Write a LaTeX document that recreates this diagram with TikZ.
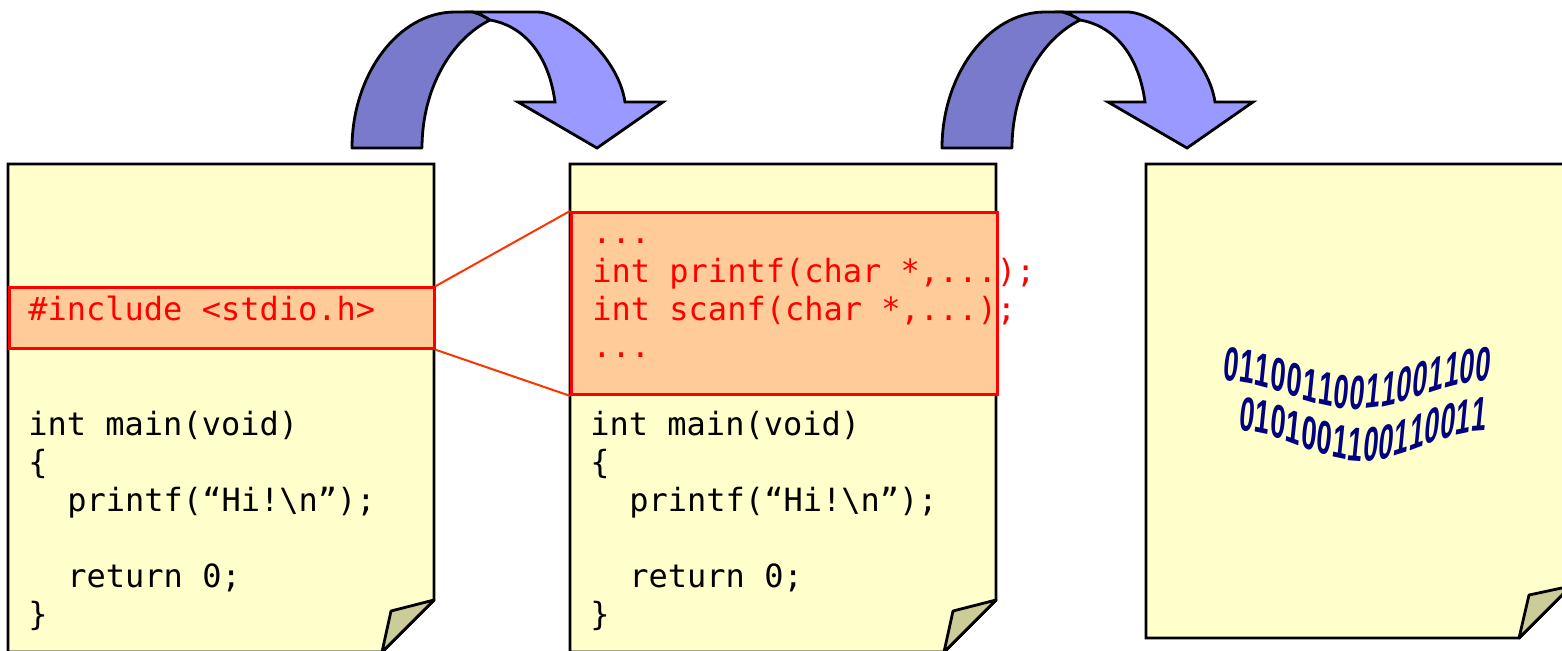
\documentclass[tikz,border=0pt]{standalone}
\usepackage{fontspec}
\newfontfamily\codefont{DejaVu Sans Mono}
\newfontfamily\bitfont{Liberation Sans}
\definecolor{pagefill}{RGB}{255,255,204}
\definecolor{foldfill}{RGB}{204,204,153}
\definecolor{peach}{RGB}{255,204,153}
\definecolor{linkred}{RGB}{255,51,0}
\definecolor{ribbondark}{RGB}{122,122,204}
\definecolor{ribbonlight}{RGB}{153,153,255}
\definecolor{bitblue}{RGB}{0,0,128}
\tikzset{
  page/.style={fill=pagefill, draw=black, line width=1.4pt, line join=miter},
  fold/.style={fill=foldfill, draw=black, line width=1.4pt, line join=round},
  hlbox/.style={rectangle, fill=peach, draw=red, line width=1.4pt, inner sep=0pt, anchor=north west},
  link/.style={draw=linkred, line width=1pt},
  code/.style={font=\codefont\fontsize{16}{19}\selectfont, inner sep=0pt, anchor=base west},
  redcode/.style={code, text=red},
  bit/.style={font=\bitfont\bfseries\fontsize{24}{24}\selectfont, text=bitblue, inner sep=0pt, anchor=base},
  backside/.style={fill=ribbondark, draw=black, line width=1.4pt, line join=round},
  frontside/.style={fill=ribbonlight, draw=black, line width=1.4pt, line join=miter},
  turn/.pic={
    % back of the twisted ribbon
    \path[backside] (352,148) .. controls (352,75) and (398,12) .. (455,12) -- (473,12)
      .. controls (480,14) and (486,17) .. (490,20)
      .. controls (450,40) and (422,90) .. (422,148) -- cycle;
    % front of the ribbon with its arrow head
    \path[frontside] (473,12) -- (537,12) .. controls (565,12) and (618,55) .. (625,102)
      -- (663,102) -- (597,148) -- (518,102) -- (555,102)
      .. controls (548,50) and (520,25) .. (490,20)
      .. controls (486,17) and (480,14) .. (473,12) -- cycle;
  }
}
\begin{document}
\begin{tikzpicture}[x=0.5pt,y=-0.5pt]
\useasboundingbox (0,0) rectangle (1562,650);
\clip (0,0) rectangle (1562,650);

% source sheet
\path[page] (8,164) -- (434,164) -- (434,600) -- (382,652) -- (8,652) -- cycle;
\path[fold] (434,600) -- (391,611) -- (382,652) -- cycle;
% preprocessed sheet
\path[page] (570,164) -- (996,164) -- (996,600) -- (944,652) -- (570,652) -- cycle;
\path[fold] (996,600) -- (953,611) -- (944,652) -- cycle;
% object sheet
\path[page] (1146,164) -- (1571,164) -- (1571,586) -- (1519,638) -- (1146,638) -- cycle;
\path[fold] (1571,586) -- (1529,595) -- (1519,638) -- cycle;

% highlighted include line and its expansion
\node[hlbox, minimum width=212.5pt, minimum height=30.5pt] (hdr) at (8,286) {};
\node[hlbox, minimum width=213pt, minimum height=91pt] (decl) at (570,211) {};
\draw[link] (hdr.north east) -- (decl.north west);
\draw[link] (hdr.south east) -- (decl.south west);

% source code
\node[redcode] (inc) at (28,320) {\#include <stdio.h>};
\node[code] (m1) at (28,435) {int main(void)};
\node[code] (o1) at (28,473) {\{};
\node[code] (p1) at (67,511) {printf(“Hi!\textbackslash n”);};
\node[code] (r1) at (67,587) {return 0;};
\node[code] (c1) at (28,625) {\}};

% preprocessed code
\node[redcode] (d1) at (592,243) {...};
\node[redcode] (d2) at (592,282) {int printf(char *,...);};
\node[redcode] (d3) at (592,320) {int scanf(char *,...);};
\node[redcode] (d4) at (592,357) {...};
\node[code] (m2) at (590,435) {int main(void)};
\node[code] (o2) at (590,473) {\{};
\node[code] (p2) at (629,511) {printf(“Hi!\textbackslash n”);};
\node[code] (r2) at (629,587) {return 0;};
\node[code] (c2) at (590,625) {\}};

% machine code, bent along a wave (vertical shear plus a slight slant)
\foreach \c [count=\i from 0] in {0,1,1,0,0,1,1,0,0,1,1,0,0,1,1,0,0} {
  \pgfmathsetmacro\bT{(\i+0.5)/17}
  \pgfmathsetmacro\bX{1222+268*\bT}
  \pgfmathsetmacro\bY{381+28*(1-cos(360*\bT))/2}
  \pgfmathsetmacro\bS{-28*3.14159*sin(360*\bT)/268}
  \node[bit, yslant=\bS, xslant=0.1] (ra-\i) at (\bX,\bY) {\scalebox{0.56}[1]{\c}};
}
\foreach \c [count=\i from 0] in {0,1,0,1,0,0,1,1,0,0,1,1,0,0,1,1} {
  \pgfmathsetmacro\bT{(\i+0.5)/16}
  \pgfmathsetmacro\bX{1238+247.5*\bT}
  \pgfmathsetmacro\bY{431+30*(1-cos(360*\bT))/2}
  \pgfmathsetmacro\bS{-30*3.14159*sin(360*\bT)/247.5}
  \node[bit, yslant=\bS, xslant=0.1] (rb-\i) at (\bX,\bY) {\scalebox{0.56}[1]{\c}};
}

% curved arrows between the stages
\pic at (0,0) {turn};
\pic at (590,0) {turn};
\end{tikzpicture}
\end{document}
